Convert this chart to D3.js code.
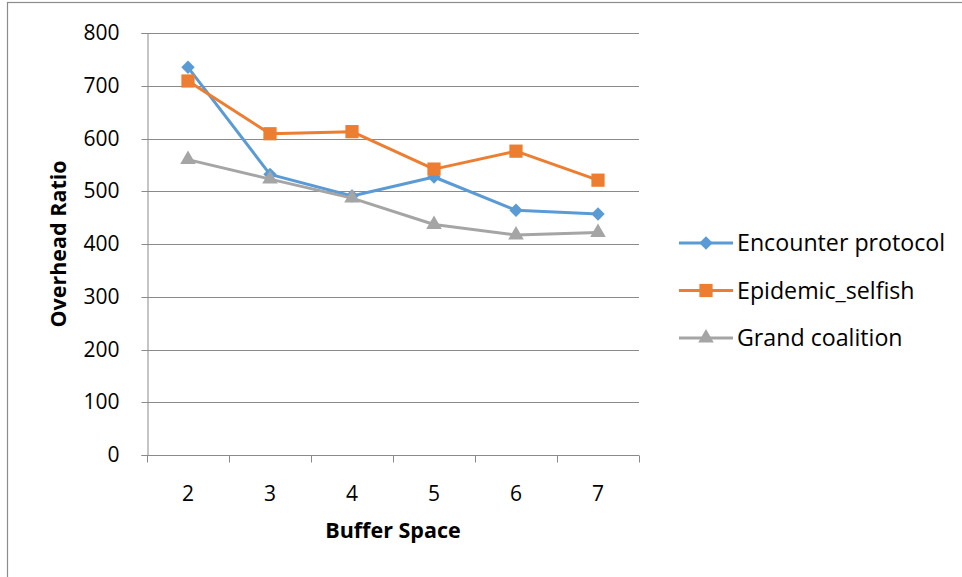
<!DOCTYPE html>
<html>
<head>
<meta charset="utf-8">
<script src="https://cdn.jsdelivr.net/npm/d3@7/dist/d3.min.js"></script>
<style>
  html, body { margin: 0; padding: 0; background: #fff; }
  svg { display: block; }
  text { font-family: "Open Sans", "Liberation Sans", sans-serif; fill: #000; }
</style>
</head>
<body>
<svg id="chart" width="962" height="577"></svg>
<script>
// Buffer space categories and overhead ratio per routing scheme
const bufferSpace = ["2", "3", "4", "5", "6", "7"];
const encounterProtocol = [735, 532, 491, 527, 464, 457];
const epidemicSelfish = [709, 609, 613, 542, 576, 521];
const grandCoalition = [560, 523, 487, 437, 417, 422];
const yTicks = [0, 100, 200, 300, 400, 500, 600, 700, 800];

const seriesNames = ["Encounter protocol", "Epidemic_selfish", "Grand coalition"];
const seriesColors = ["#5B9BD5", "#ED7D31", "#A5A5A5"];
// Diamond is a square turned by 45 degrees
const seriesSymbols = [d3.symbolSquare, d3.symbolSquare, d3.symbolTriangle];
const seriesRotation = [45, 0, 0];
const seriesSizes = [90, 175, 105];

const series = [encounterProtocol, epidemicSelfish, grandCoalition].map((values, i) => ({
  name: seriesNames[i],
  color: seriesColors[i],
  symbol: seriesSymbols[i],
  rotate: seriesRotation[i],
  size: seriesSizes[i],
  values
}));

const svg = d3.select("#chart");
const plot = { left: 147, right: 639, top: 33, bottom: 455 };

// Chart frame
svg.append("rect")
  .attr("x", 7.5).attr("y", 2.5)
  .attr("width", 1000).attr("height", 1000)
  .attr("fill", "none").attr("stroke", "#8c8c8c").attr("stroke-width", 1.2);

const x = d3.scaleBand().domain(bufferSpace).range([plot.left, plot.right]);
const y = d3.scaleLinear().domain([0, 800]).range([plot.bottom, plot.top]);

// Horizontal gridlines
svg.append("g")
  .selectAll("line")
  .data(yTicks.filter(d => d > 0))
  .join("line")
  .attr("x1", plot.left).attr("x2", plot.right)
  .attr("y1", d => Math.round(y(d)) + 0.5).attr("y2", d => Math.round(y(d)) + 0.5)
  .attr("stroke", "#8a8a8a").attr("stroke-width", 1);

// Y axis
const yAxis = svg.append("g")
  .attr("transform", `translate(${plot.left + 0.5},0)`)
  .call(d3.axisLeft(y).tickValues(yTicks).tickSize(6).tickPadding(22));
yAxis.select(".domain").attr("stroke", "#8a8a8a");
yAxis.selectAll(".tick line").attr("stroke", "#8a8a8a");
yAxis.selectAll(".tick text").attr("font-size", 21).attr("font-family", "'Open Sans', sans-serif").attr("fill", "#000");
yAxis.selectAll(".tick").attr("transform", d => `translate(0,${Math.round(y(d)) + 0.5})`);

// X axis with ticks on category boundaries
const xAxisG = svg.append("g")
  .attr("transform", `translate(0,${plot.bottom + 0.5})`);
xAxisG.append("line")
  .attr("x1", plot.left).attr("x2", plot.right)
  .attr("stroke", "#8a8a8a");
const boundaries = bufferSpace.map(d => x(d)).concat([x.range()[1]]);
xAxisG.selectAll("line.tick")
  .data(boundaries)
  .join("line")
  .attr("class", "tick")
  .attr("x1", d => Math.round(d) + 0.5).attr("x2", d => Math.round(d) + 0.5)
  .attr("y1", 0).attr("y2", 7)
  .attr("stroke", "#8a8a8a");
xAxisG.selectAll("text")
  .data(bufferSpace)
  .join("text")
  .attr("x", d => x(d) + x.bandwidth() / 2)
  .attr("y", 45)
  .attr("text-anchor", "middle")
  .attr("font-size", 21)
  .text(d => d);

// Axis titles
svg.append("text")
  .attr("x", (plot.left + plot.right) / 2)
  .attr("y", 538)
  .attr("text-anchor", "middle")
  .attr("font-size", 21.5)
  .attr("font-weight", "bold")
  .text("Buffer Space");

svg.append("text")
  .attr("transform", `translate(66,${(plot.top + plot.bottom) / 2}) rotate(-90)`)
  .attr("text-anchor", "middle")
  .attr("font-size", 21.5)
  .attr("font-weight", "bold")
  .text("Overhead Ratio");

// Lines and markers
const line = d3.line()
  .x((d, i) => x(bufferSpace[i]) + x.bandwidth() / 2)
  .y(d => y(d));

series.forEach(s => {
  const g = svg.append("g");
  g.append("path")
    .datum(s.values)
    .attr("d", line)
    .attr("fill", "none")
    .attr("stroke", s.color)
    .attr("stroke-width", 3)
    .attr("stroke-linejoin", "round");
  g.selectAll("path.marker")
    .data(s.values)
    .join("path")
    .attr("class", "marker")
    .attr("d", d3.symbol().type(s.symbol).size(s.size))
    .attr("transform", (d, i) => `translate(${x(bufferSpace[i]) + x.bandwidth() / 2},${y(d)}) rotate(${s.rotate})`)
    .attr("fill", s.color);
});

// Legend
const legend = svg.append("g").attr("transform", "translate(679,243)");
series.forEach((s, i) => {
  const row = legend.append("g").attr("transform", `translate(0,${i * 47.5})`);
  row.append("line")
    .attr("x1", 0).attr("x2", 54)
    .attr("stroke", s.color).attr("stroke-width", 3);
  row.append("path")
    .attr("d", d3.symbol().type(s.symbol).size(s.size))
    .attr("transform", `translate(27,0) rotate(${s.rotate})`)
    .attr("fill", s.color);
  row.append("text")
    .attr("x", 58)
    .attr("y", 0)
    .attr("dy", "0.35em")
    .attr("font-size", 23.2)
    .text(s.name);
});
</script>
</body>
</html>
